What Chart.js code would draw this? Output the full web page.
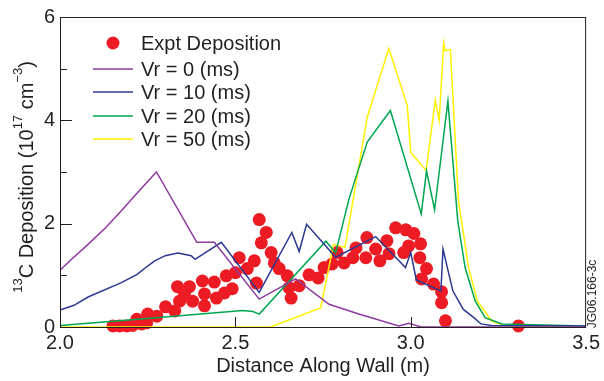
<!DOCTYPE html>
<html lang="en">
<head>
  <meta charset="UTF-8">
  <title>13C Deposition Along Wall</title>
  <script src="https://cdn.jsdelivr.net/npm/chart.js"></script>
  <style>
    body { margin: 0; background: #fff; }
    canvas { display: block; }
  </style>
</head>
<body>
  <canvas id="depChart" width="604" height="381"></canvas>

  <script>
    // experimental deposition points
    const exptX = [2.151, 2.170, 2.190, 2.207, 2.233, 2.247, 2.219, 2.250, 2.276, 2.301, 2.327, 2.335, 2.341, 2.355, 2.369,
      2.378, 2.412, 2.406, 2.412, 2.440, 2.446, 2.469, 2.474, 2.491, 2.500, 2.511, 2.534, 2.560, 2.554, 2.568,
      2.588, 2.574, 2.602, 2.611, 2.625, 2.648, 2.653, 2.659, 2.682, 2.710, 2.736, 2.753, 2.776, 2.790, 2.810,
      2.835, 2.844, 2.872, 2.875, 2.900, 2.912, 2.932, 2.938, 2.957, 2.986, 3.009, 2.994, 2.980, 3.028, 3.026,
      3.045, 3.031, 3.065, 3.088, 3.088, 3.099, 3.307];
    const exptY = [0.02, 0.02, 0.02, 0.03, 0.06, 0.08, 0.15, 0.25, 0.21, 0.39, 0.31, 0.78, 0.50, 0.64, 0.78,
      0.50, 0.41, 0.89, 0.64, 0.87, 0.56, 0.66, 0.99, 0.74, 1.05, 1.34, 1.13, 0.85, 1.28, 2.08,
      1.83, 1.63, 1.44, 1.24, 1.13, 0.99, 0.76, 0.56, 0.80, 1.01, 0.95, 1.15, 1.22, 1.44, 1.24,
      1.34, 1.53, 1.34, 1.73, 1.51, 1.28, 1.67, 1.42, 1.92, 1.88, 1.81, 1.57, 1.44, 1.61, 1.34,
      1.13, 0.93, 0.83, 0.68, 0.47, 0.12, 0.02];

    // model curves
    const vr0X = [2.0, 2.033, 2.08, 2.13, 2.175, 2.222, 2.275, 2.39, 2.44, 2.568, 2.672, 2.767, 2.852, 2.966, 2.994, 3.03, 3.5];
    const vr0Y = [1.10, 1.31, 1.60, 1.92, 2.25, 2.61, 3.00, 1.64, 1.64, 0.54, 0.93, 0.44, 0.25, 0.02, 0.07, 0.0, 0.0];

    const vr10X = [2.0, 2.04, 2.08, 2.175, 2.22, 2.25, 2.27, 2.30, 2.336, 2.374, 2.385, 2.46, 2.568, 2.661, 2.682, 2.703,
      2.786, 2.90, 2.985, 3.0, 3.016, 3.086, 3.092, 3.12, 3.15, 3.18, 3.2, 3.23, 3.5];
    const vr10Y = [0.33, 0.42, 0.58, 0.86, 1.02, 1.18, 1.28, 1.38, 1.43, 1.38, 1.31, 1.64, 0.67, 1.83, 1.46, 1.99,
      1.35, 1.75, 1.15, 1.44, 0.91, 0.70, 1.51, 0.70, 0.34, 0.18, 0.06, 0.03, 0.02];

    const vr20X = [2.0, 2.222, 2.47, 2.52, 2.55, 2.568, 2.758, 2.786, 2.824, 2.876, 2.942, 3.03, 3.045, 3.068, 3.106,
      3.134, 3.155, 3.184, 3.212, 3.26, 3.5];
    const vr20Y = [0.03, 0.15, 0.29, 0.32, 0.30, 0.25, 1.66, 1.44, 2.48, 3.58, 4.19, 2.19, 3.02, 2.27, 4.37,
      2.06, 1.15, 0.50, 0.18, 0.06, 0.02];

    const vr50X = [2.0, 2.60, 2.743, 2.78, 2.8125, 2.876, 2.9375, 2.99, 3.0, 3.044, 3.07, 3.081, 3.094, 3.098, 3.113,
      3.136, 3.165, 3.19, 3.23, 3.27, 3.5];
    const vr50Y = [0.0, 0.0, 0.37, 1.60, 1.54, 4.06, 5.39, 4.29, 3.38, 3.03, 4.39, 4.00, 5.50, 5.35, 5.37,
      2.45, 1.15, 0.50, 0.12, 0.02, 0.0];

    const xTicks = [2.0, 2.5, 3.0, 3.5];
    const yTicks = [0, 2, 4, 6];

    const FONT = "'Liberation Sans', Arial, Helvetica, sans-serif";
    const INK = "#231f20";

    const pts = (xs, ys) => xs.map((x, i) => ({ x: x, y: ys[i] }));

    const lineSet = (label, xs, ys, color) => ({
      label: label,
      data: pts(xs, ys),
      showLine: true,
      borderColor: color,
      backgroundColor: color,
      borderWidth: 1.5,
      pointRadius: 0,
      tension: 0,
      order: 0
    });

    // frame, inward ticks, legend and side texts
    const decor = {
      id: "decor",
      afterDraw(chart) {
        const ctx = chart.ctx;
        const a = chart.chartArea;
        const xs = chart.scales.x, ys = chart.scales.y;
        ctx.save();
        ctx.strokeStyle = INK;
        ctx.lineWidth = 1;
        ctx.strokeRect(a.left + 0.5, a.top + 0.5, a.right - a.left - 1, a.bottom - a.top);

        ctx.beginPath();
        for (let v = 1; v < 6; v++) {
          const y = Math.round(ys.getPixelForValue(v)) + 0.5;
          const len = v % 2 === 0 ? 12 : 7;
          ctx.moveTo(a.left, y); ctx.lineTo(a.left + len, y);
        }
        [2.5, 3.0].forEach(v => {
          const x = Math.round(xs.getPixelForValue(v)) + 0.5;
          ctx.moveTo(x, a.bottom); ctx.lineTo(x, a.bottom - 10);
        });
        ctx.stroke();

        // legend
        const ds = chart.data.datasets;
        ctx.font = "20px " + FONT;
        ctx.textBaseline = "middle";
        ctx.fillStyle = INK;
        const rows = [43, 69, 92, 116, 139];
        ds.forEach((d, i) => {
          const y = rows[i];
          if (d.showLine) {
            ctx.strokeStyle = d.borderColor;
            ctx.lineWidth = 1.5;
            ctx.beginPath();
            ctx.moveTo(93, y); ctx.lineTo(133, y);
            ctx.stroke();
          } else {
            ctx.fillStyle = d.backgroundColor;
            ctx.beginPath();
            ctx.arc(113, y, 6.5, 0, Math.PI * 2);
            ctx.fill();
          }
          ctx.fillStyle = INK;
          ctx.fillText(d.label, 141, y + 1);
        });

        // y axis title with superscripts
        const segs = [["13", true], ["C Deposition (10", false], ["17", true], [" cm", false], ["\u22123", true], [")", false]];
        const big = "20px " + FONT, small = "13px " + FONT;
        let total = 0;
        segs.forEach(s => { ctx.font = s[1] ? small : big; total += ctx.measureText(s[0]).width; });
        ctx.translate(33, 177);
        ctx.rotate(-Math.PI / 2);
        ctx.textBaseline = "alphabetic";
        let px = -total / 2;
        segs.forEach(s => {
          ctx.font = s[1] ? small : big;
          ctx.fillText(s[0], px, s[1] ? -11 : 0);
          px += ctx.measureText(s[0]).width;
        });
        ctx.restore();

        ctx.save();
        ctx.fillStyle = INK;
        ctx.font = "12px " + FONT;
        ctx.textAlign = "center";
        ctx.textBaseline = "middle";
        ctx.translate(593, 294);
        ctx.rotate(-Math.PI / 2);
        ctx.fillText("JG06.166-3c", 0, 0);
        ctx.restore();
      }
    };

    new Chart(document.getElementById("depChart"), {
      type: "scatter",
      data: {
        datasets: [
          {
            label: "Expt Deposition",
            data: pts(exptX, exptY),
            showLine: false,
            backgroundColor: "#ed1c24",
            borderColor: "#ed1c24",
            borderWidth: 0,
            pointRadius: 6.5,
            pointHoverRadius: 6.5,
            clip: false,
            order: 1
          },
          lineSet("Vr = 0 (ms)", vr0X, vr0Y, "#8e3a9e"),
          lineSet("Vr = 10 (ms)", vr10X, vr10Y, "#2b3990"),
          lineSet("Vr = 20 (ms)", vr20X, vr20Y, "#00a651"),
          lineSet("Vr = 50 (ms)", vr50X, vr50Y, "#fff200")
        ]
      },
      options: {
        responsive: false,
        animation: false,
        events: [],
        layout: { padding: { top: 17, right: 16, left: 0, bottom: 0 } },
        plugins: { legend: { display: false }, tooltip: { enabled: false } },
        scales: {
          x: {
            type: "linear",
            min: 2.0,
            max: 3.5,
            afterBuildTicks: s => { s.ticks = xTicks.map(v => ({ value: v })); },
            afterFit: s => { s.height = 54; },
            grid: { display: false, drawTicks: false },
            border: { display: false },
            ticks: {
              padding: 4,
              color: INK,
              font: { family: FONT, size: 20 },
              callback: v => v.toFixed(1)
            },
            title: {
              display: true,
              text: "Distance Along Wall (m)",
              color: INK,
              font: { family: FONT, size: 20 },
              padding: { top: 0, bottom: 3 }
            }
          },
          y: {
            min: 0,
            max: 6,
            afterBuildTicks: s => { s.ticks = yTicks.map(v => ({ value: v })); },
            afterFit: s => { s.width = 60; },
            grid: { display: false, drawTicks: false },
            border: { display: false },
            ticks: {
              padding: 5,
              color: INK,
              font: { family: FONT, size: 20 }
            }
          }
        }
      },
      plugins: [decor]
    });
  </script>
</body>
</html>
